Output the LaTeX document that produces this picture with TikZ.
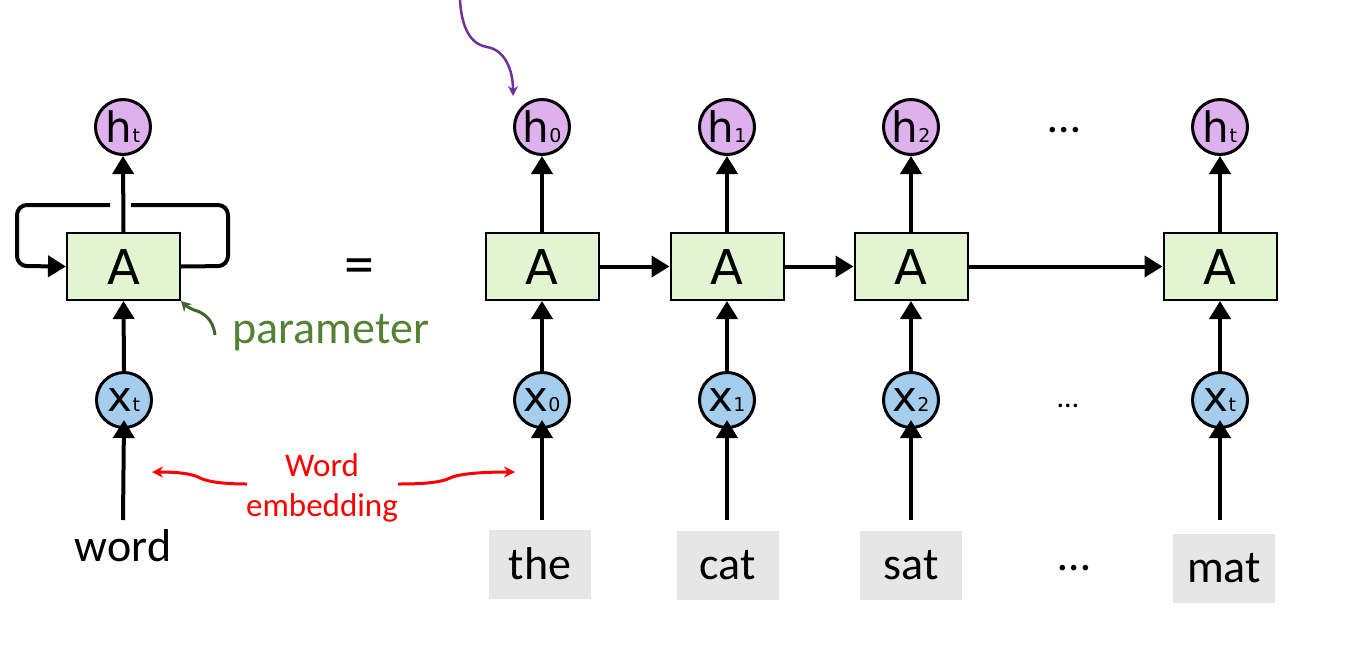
\documentclass[tikz,border=0pt]{standalone}
\usepackage{fontspec}
\setmainfont{Carlito}
\newfontfamily\dvs{DejaVu Sans}
\usetikzlibrary{arrows.meta}
\definecolor{hcol}{HTML}{DEB0EE}
\definecolor{xcol}{HTML}{A5CEEE}
\definecolor{acol}{HTML}{E1F5D3}
\definecolor{gcol}{HTML}{E6E6E6}
\definecolor{ptext}{HTML}{548235}
\definecolor{parr}{HTML}{41652E}
\definecolor{purp}{HTML}{7030A0}
\newcommand\clab[2]{{\dvs\fontsize{42}{42}\selectfont #1}{\dvs\fontsize{19}{19}\selectfont #2}}
\tikzset{
  hnode/.style={circle,draw,line width=3pt,fill=hcol,minimum size=55pt,inner sep=0pt},
  xnode/.style={circle,draw,line width=3pt,fill=xcol,minimum size=55pt,inner sep=0pt},
  anode/.style={draw,line width=2pt,fill=acol,minimum width=113pt,minimum height=67pt,inner sep=0pt,
     font=\dvs\fontsize{48}{48}\selectfont},
  wnode/.style={fill=gcol,minimum width=102pt,minimum height=69pt,inner sep=0pt,font=\fontsize{46}{46}\selectfont},
  conn/.style={line width=4pt,-{Triangle[length=18pt,width=21pt]}},
  loopline/.style={line width=4pt,rounded corners=10pt},
  redarr/.style={red,line width=3pt,-{Stealth[length=11pt,width=11pt]}},
}
\begin{document}
\begin{tikzpicture}[x=1pt,y=-1pt]
\useasboundingbox (0,0) rectangle (1348,659);
% left folded RNN
\node[hnode] (hl) at (123,127) {\clab{h}{t}};
\node[anode] (Al) at (123.5,266.5) {A};
\node[xnode] (xl) at (124,400) {\clab{x}{t}};
\node[font=\fontsize{46}{46}\selectfont] (wl) at (123,546) {word};
\coordinate (wlb) at (123,520);
\draw[conn] (Al.north) -- (hl.south);
\draw[conn] (xl.north) -- (Al.south);
\draw[conn] (wlb) -- ([yshift=9pt]xl.south);
\draw[loopline] (Al.east) -- (228,266) -- (228,205) -- (131,205);
\draw[loopline,-{Triangle[length=18pt,width=21pt]}] (110,205) -- (17,205) -- (17,266) -- (Al.west);
% parameter
\node[text=ptext,font=\fontsize{46}{46}\selectfont,anchor=west] (par) at (229,333) {parameter};
\coordinate (pstart) at (215,335);
\draw[parr,line width=3pt,-{Stealth[length=10pt,width=11pt]}] (pstart) .. controls (213,318) and (202,312) .. (194,310) .. controls (189,308) and (185,305) .. (Al.south east);
% equals
\node[font=\fontsize{60}{60}\selectfont] (eq) at (359,272) {=};
% unrolled
\foreach \i/\xx/\hs/\xs in {0/542/0/0,1/727/1/1,2/911/2/2,3/1220/t/t}{
  \node[hnode] (h\i) at (\xx,127) {\clab{h}{\hs}};
  \node[anode] (A\i) at (\xx,266.5) {A};
  \node[xnode] (x\i) at (\xx,400) {\clab{x}{\xs}};
  \coordinate (in\i) at (\xx,520);
  \draw[conn] (A\i.north) -- (h\i.south);
  \draw[conn] (x\i.north) -- (A\i.south);
  \draw[conn] (in\i) -- ([yshift=9pt]x\i.south);
}
\draw[conn] (A0.east) -- (A1.west);
\draw[conn] (A1.east) -- (A2.west);
\draw[conn] (A2.east) -- (A3.west);
\node[wnode] (w0) at (540,564) {the};
\node[wnode] (w1) at (727.5,565) {cat};
\node[wnode] (w2) at (911,565) {sat};
\node[wnode] (w3) at (1224,568) {mat};
\node[font=\fontsize{46}{46}\selectfont] (d1) at (1064,130) {…};
\node[font=\fontsize{30}{30}\selectfont] (d2) at (1068,406) {…};
\node[font=\fontsize{46}{46}\selectfont] (d3) at (1074,568) {…};
% purple arrow
\coordinate (ps) at (460,0);
\draw[purp,line width=2.5pt,-{Stealth[length=10pt,width=10pt]}] (ps) .. controls (462,35) and (475,45) .. (487,47) .. controls (505,50) and (513,70) .. ([xshift=-29pt,yshift=31pt]h0.center);
% word embedding
\node[red,font=\fontsize{33}{40}\selectfont,align=center] (emb) at (322,488) {Word\\embedding};
\coordinate (eL) at (247,484);
\coordinate (eLt) at (152,472);
\coordinate (eR) at (398,484);
\coordinate (eRt) at (515,472);
\draw[redarr] (eL) .. controls (225,484) and (208,482) .. (200,478) .. controls (193,474) and (180,472) .. (eLt);
\draw[redarr] (eR) .. controls (420,484) and (440,483) .. (450,478) .. controls (458,474) and (480,472) .. (eRt);
\end{tikzpicture}
\end{document}
